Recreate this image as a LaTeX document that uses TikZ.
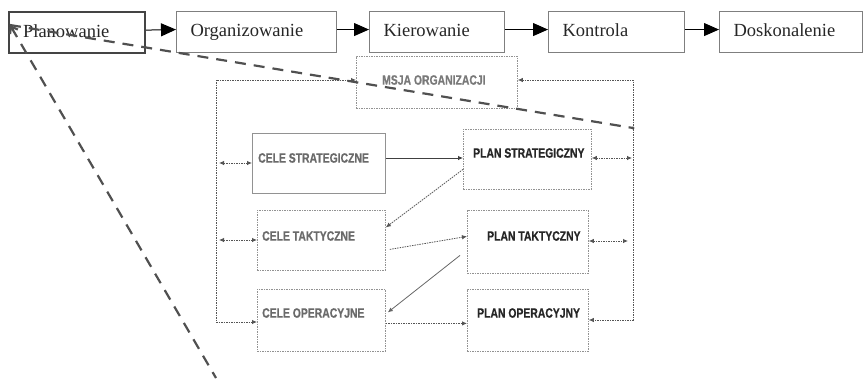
\documentclass[tikz,border=0pt]{standalone}
\usepackage{fontspec}
\setmainfont{Liberation Serif}
\newfontfamily\boxsans{Liberation Sans}[FakeStretch=0.77,FakeBold=0.6]
\usetikzlibrary{arrows.meta}
\definecolor{frame}{HTML}{7F7F7F}
\definecolor{darkframe}{HTML}{444444}
\definecolor{calloutgray}{HTML}{505050}
\definecolor{celgray}{HTML}{6A6A6A}
\definecolor{plandark}{HTML}{262626}
\definecolor{dotgray}{HTML}{555555}
\begin{document}
\begin{tikzpicture}[x=1pt,y=-1pt,
  topbox/.style={draw=frame, line width=1.1pt, anchor=north west, minimum height=41pt,
    inner xsep=14pt, inner ysep=0pt, align=left, text height=13pt, text depth=4pt,
    font=\fontsize{18.5}{20}\selectfont, text=black!85},
  thickframe/.style={draw=darkframe, line width=2.2pt},
  flow/.style={line width=1pt, -{Triangle[length=15pt,width=13pt]}},
  innerbox/.style={draw=frame!85, line width=0.8pt, dash pattern=on 1.5pt off 1pt,
    anchor=north west, inner sep=0pt},
  solidbox/.style={draw=frame!85, line width=0.8pt, anchor=north west, inner sep=0pt},
  celtext/.style={anchor=west, inner sep=0pt, text=celgray,
    font=\boxsans\bfseries\fontsize{13.5}{14}\selectfont},
  plantext/.style={celtext, text=plandark},
  dotline/.style={draw=dotgray, line width=0.8pt, dash pattern=on 1.5pt off 1pt},
  dottip/.style={dotline, {Latex[length=5pt,width=4.5pt]}-{Latex[length=5pt,width=4.5pt]}},
  dotarrow/.style={dotline, -{Latex[length=5pt,width=4.5pt]}},
  thinarrow/.style={draw=black!75, line width=0.8pt, -{Latex[length=5pt,width=4.5pt]}},
  callout/.style={draw=calloutgray, line width=2.2pt, dash pattern=on 11pt off 8pt}]

\useasboundingbox (0,0) rectangle (863,378);

% management functions, top row
\node[topbox, thickframe, text width=108pt] (plan) at (8,11) {Planowanie};
\node[topbox, text width=132pt] (org) at (176,11) {Organizowanie};
\node[topbox, text width=107pt] (kier) at (369,11) {Kierowanie};
\node[topbox, text width=108pt] (kontr) at (548,11) {Kontrola};
\node[topbox, text width=115pt] (dosk) at (719,11) {Doskonalenie};

\draw[flow] ([yshift=2.5pt]plan.east) -- ([yshift=2.5pt]org.west);
\draw[flow] ([yshift=2.5pt]org.east) -- ([yshift=2.5pt]kier.west);
\draw[flow] ([yshift=2.5pt]kier.east) -- ([yshift=2.5pt]kontr.west);
\draw[flow] ([yshift=2.5pt]kontr.east) -- ([yshift=2.5pt]dosk.west);

% planning levels
\node[innerbox, minimum width=161pt, minimum height=52pt] (msja) at (356,56) {};
\node[solidbox, minimum width=133pt, minimum height=60pt] (cs) at (252,133) {};
\node[innerbox, minimum width=128pt, minimum height=60pt] (ps) at (463,129) {};
\node[innerbox, minimum width=128pt, minimum height=60pt] (ct) at (257,210) {};
\node[innerbox, minimum width=121pt, minimum height=63pt] (pt) at (467,210) {};
\node[innerbox, minimum width=128pt, minimum height=62pt] (co) at (257,289) {};
\node[innerbox, minimum width=121pt, minimum height=62pt] (po) at (467,289) {};

\node[celtext, text=celgray!90] (msja-t) at (382,80) {MSJA ORGANIZACJI};
\node[celtext] (cs-t) at (258,158) {CELE STRATEGICZNE};
\node[plantext] (ps-t) at (473,153) {PLAN STRATEGICZNY};
\node[celtext] (ct-t) at (262,236) {CELE TAKTYCZNE};
\node[plantext] (pt-t) at (487,236) {PLAN TAKTYCZNY};
\node[celtext] (co-t) at (262,313) {CELE OPERACYJNE};
\node[plantext] (po-t) at (477,313) {PLAN OPERACYJNY};

% feedback frame around the levels
\coordinate (lt) at (216,80);
\coordinate (lb) at (216,322);
\coordinate (rt) at (633,80);
\coordinate (rb) at (633,320);
\draw[dottip] (msja.west |- lt) -- (lt) -- (lb) -- (co.west |- lb);
\draw[dottip] (msja.east |- rt) -- (rt) -- (rb) -- (po.east |- rb);

\coordinate (l1) at (219,163);
\coordinate (l2) at (219,240);
\coordinate (r1) at (632,158);
\coordinate (r2) at (628,241);
\draw[dottip] (l1) -- (cs.west |- l1);
\draw[dottip] (l2) -- (ct.west |- l2);
\draw[dottip] (ps.east |- r1) -- (r1);
\draw[dottip] (pt.east |- r2) -- (r2);

% links between goals and plans
\draw[thinarrow] (cs.east |- cs-t) -- (ps.west |- cs-t);
\draw[dotarrow] ([yshift=-10pt]ps.west) -- ([yshift=13pt]ct.east);
\draw[dotarrow] ([xshift=4pt,yshift=-9pt]ct.east) -- ([yshift=5.5pt]pt.west);
\draw[thinarrow, draw=black!60] ([xshift=-7pt,yshift=-13.5pt]pt.west) -- ([xshift=2pt,yshift=8pt]co.east);
\draw[dotarrow] ([yshift=-3pt]co.east) -- ([yshift=-3pt]po.west);

% callout lines from Planowanie
\coordinate (z) at (10,25);
\coordinate (z1) at (633,128);
\coordinate (z2) at (216,378);
\draw[callout] (z) -- (z1);
\draw[callout, {Straight Barb[length=6pt,width=9pt]}-] (z) -- (z2);
\fill[calloutgray] (z1) circle (1.6pt);

\end{tikzpicture}
\end{document}
